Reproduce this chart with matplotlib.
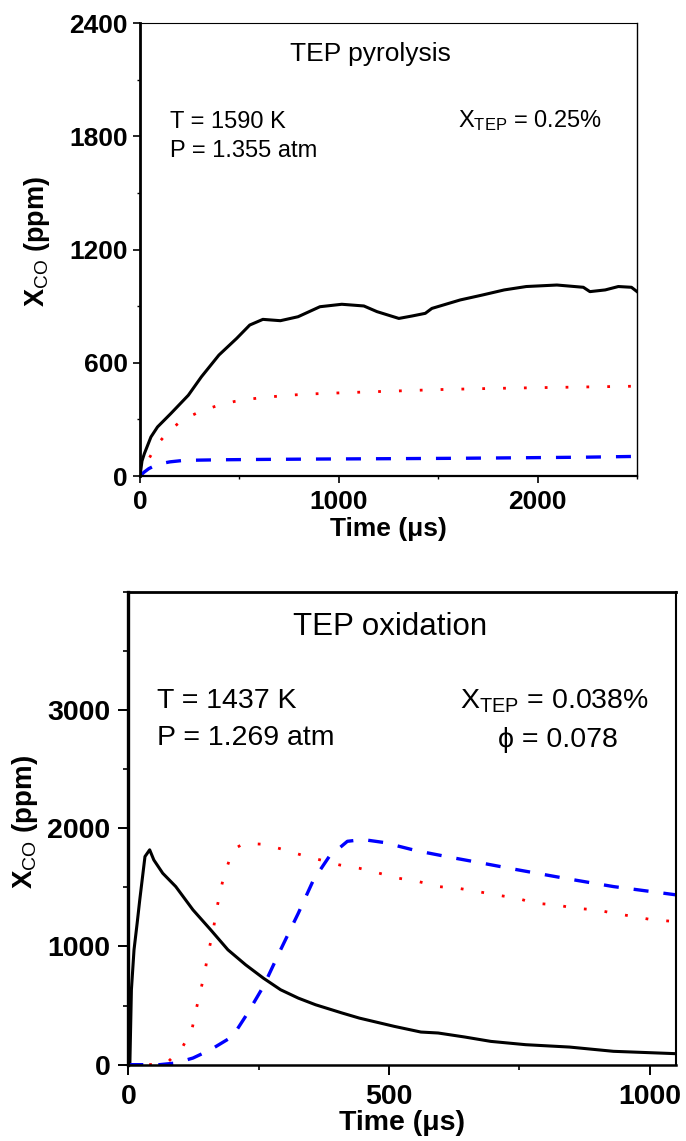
import matplotlib
matplotlib.use('Agg')
import matplotlib.pyplot as plt
from matplotlib.ticker import MultipleLocator

plt.rcParams['font.family'] = ['Liberation Sans', 'DejaVu Sans']
plt.rcParams['mathtext.fontset'] = 'custom'
plt.rcParams['mathtext.rm'] = 'Liberation Sans'
plt.rcParams['mathtext.it'] = 'Liberation Sans:italic'
plt.rcParams['mathtext.bf'] = 'Liberation Sans:bold'

# --- TEP pyrolysis (top) ---
pyr_t_exp = [0, 10, 22, 55, 88, 155, 243, 309, 397, 486, 552, 618, 706, 795, 905, 1015,
             1126, 1192, 1302, 1369, 1435, 1468, 1611, 1722, 1832, 1943, 2097, 2230,
             2263, 2340, 2406, 2472, 2500]
pyr_co_exp = [0, 80, 119, 207, 260, 331, 428, 526, 641, 729, 800, 830, 823, 844, 897, 910,
              901, 871, 835, 848, 862, 888, 933, 959, 986, 1004, 1012, 1000,
              977, 986, 1004, 1000, 977]
pyr_t_red = [0, 20, 44, 84, 143, 210, 298, 386, 475, 570, 662, 750, 839, 938, 1126, 1302,
             1501, 1766, 2053, 2500]
pyr_co_red = [0, 45, 90, 165, 235, 295, 340, 372, 395, 410, 420, 428, 434, 438, 445, 451,
              458, 464, 469, 476]
pyr_t_blue = [0, 20, 44, 88, 150, 221, 400, 618, 900, 1280, 1600, 1943, 2250, 2500]
pyr_co_blue = [0, 20, 39, 62, 75, 83, 86, 88, 90, 92, 94, 97, 100, 104]

# --- TEP oxidation (bottom) ---
ox_t_exp = [0, 3, 6, 11, 17, 22, 32, 41, 49, 66, 91, 124, 158, 191, 225, 259, 292, 326,
            359, 410, 443, 510, 561, 594, 645, 695, 762, 846, 930, 1050]
ox_co_exp = [0, 0, 634, 972, 1197, 1394, 1761, 1818, 1732, 1620, 1507, 1310, 1141, 972,
             845, 732, 634, 563, 507, 437, 394, 324, 276, 268, 234, 197, 169, 149, 113, 93]
ox_t_red = [0, 40, 74, 103, 122, 130, 139, 147, 153, 162, 168, 175, 183, 195, 205, 222,
            259, 296, 332, 405, 443, 481, 519, 557, 594, 632, 670, 704, 746, 779, 821, 855,
            897, 930, 968, 1006, 1050]
ox_co_red = [0, 0, 14, 141, 296, 465, 634, 789, 944, 1113, 1282, 1437, 1592, 1746, 1830,
             1873, 1865, 1822, 1774, 1690, 1662, 1620, 1577, 1549, 1507, 1493, 1465, 1437,
             1408, 1366, 1352, 1324, 1310, 1282, 1254, 1225, 1211]
ox_t_blue = [0, 60, 91, 124, 158, 200, 229, 259, 292, 326, 355, 385, 420, 450, 490, 553,
             617, 680, 745, 808, 846, 930, 1050]
ox_co_blue = [0, 0, 14, 56, 127, 239, 437, 662, 972, 1282, 1563, 1760, 1890, 1905, 1880,
              1810, 1755, 1704, 1650, 1600, 1570, 1507, 1437]

fig = plt.figure(figsize=(6.86, 11.41), dpi=100)

# top panel
ax1 = fig.add_axes([0.2041, 0.5828, 0.7245, 0.3970])
ax1.plot(pyr_t_exp, pyr_co_exp, color='black', lw=2.2)
ax1.plot(pyr_t_red, pyr_co_red, color='red', lw=2.0, linestyle=(0, (1, 6.5)))
ax1.plot(pyr_t_blue, pyr_co_blue, color='blue', lw=2.4, linestyle=(0, (4.5, 4.5)))
ax1.set_xlim(0, 2500)
ax1.set_ylim(0, 2400)
ax1.xaxis.set_major_locator(MultipleLocator(1000))
ax1.xaxis.set_minor_locator(MultipleLocator(500))
ax1.yaxis.set_major_locator(MultipleLocator(600))
ax1.yaxis.set_minor_locator(MultipleLocator(300))
ax1.spines['left'].set_linewidth(2.0)
ax1.spines['bottom'].set_linewidth(1.6)
ax1.spines['top'].set_linewidth(0.8)
ax1.spines['right'].set_linewidth(1.0)
ax1.tick_params(which='major', direction='out', length=5, width=1.2, pad=5)
ax1.tick_params(which='minor', direction='out', length=2.5, width=1.0)
ax1.tick_params(axis='y', pad=4)
for lab in ax1.get_xticklabels() + ax1.get_yticklabels():
    lab.set_fontsize(19)
    lab.set_fontweight('bold')
ax1.set_xlabel('Time (μs)', fontsize=19, fontweight='bold', labelpad=2)
ax1.text(-0.208, 0.518, 'X$_{\\mathrm{CO}}$ (ppm)', transform=ax1.transAxes,
         rotation=90, ha='center', va='center', fontsize=19.5, fontweight='bold')
ax1.text(0.463, 0.9157, 'TEP pyrolysis', transform=ax1.transAxes, ha='center',
         va='baseline', fontsize=19)
ax1.text(0.060, 0.769, 'T = 1590 K', transform=ax1.transAxes, va='baseline', fontsize=17)
ax1.text(0.060, 0.705, 'P = 1.355 atm', transform=ax1.transAxes, va='baseline', fontsize=17)
ax1.text(0.640, 0.771, 'X$_{\\mathrm{TEP}}$ = 0.25%', transform=ax1.transAxes,
         va='baseline', fontsize=17)

# bottom panel
ax2 = fig.add_axes([0.1870, 0.0669, 0.7984, 0.4143])
ax2.plot(ox_t_exp, ox_co_exp, color='black', lw=2.2)
ax2.plot(ox_t_red, ox_co_red, color='red', lw=2.0, linestyle=(0, (1, 6.5)))
ax2.plot(ox_t_blue, ox_co_blue, color='blue', lw=2.4, linestyle=(0, (4.5, 4.5)))
ax2.set_xlim(0, 1050)
ax2.set_ylim(0, 4000)
ax2.xaxis.set_major_locator(MultipleLocator(500))
ax2.xaxis.set_minor_locator(MultipleLocator(250))
ax2.yaxis.set_major_locator(MultipleLocator(1000))
ax2.yaxis.set_minor_locator(MultipleLocator(500))
ax2.set_yticks([0, 1000, 2000, 3000])
ax2.spines['left'].set_linewidth(2.4)
ax2.spines['bottom'].set_linewidth(1.8)
ax2.spines['top'].set_linewidth(2.0)
ax2.spines['right'].set_linewidth(1.5)
ax2.tick_params(which='major', direction='out', length=7, width=1.4, pad=7)
ax2.tick_params(which='minor', direction='out', length=3.5, width=1.2)
ax2.tick_params(axis='y', pad=6)
for lab in ax2.get_xticklabels() + ax2.get_yticklabels():
    lab.set_fontsize(20.5)
    lab.set_fontweight('bold')
ax2.set_xlabel('Time (μs)', fontsize=20.5, fontweight='bold', labelpad=0)
ax2.text(-0.188, 0.514, 'X$_{\\mathrm{CO}}$ (ppm)', transform=ax2.transAxes,
         rotation=90, ha='center', va='center', fontsize=20, fontweight='bold')
ax2.text(0.478, 0.909, 'TEP oxidation', transform=ax2.transAxes, ha='center',
         va='baseline', fontsize=22.5)
ax2.text(0.052, 0.754, 'T = 1437 K', transform=ax2.transAxes, va='baseline', fontsize=20.5)
ax2.text(0.052, 0.676, 'P = 1.269 atm', transform=ax2.transAxes, va='baseline', fontsize=20.5)
ax2.text(0.6056, 0.754, 'X$_{\\mathrm{TEP}}$ = 0.038%', transform=ax2.transAxes,
         va='baseline', fontsize=20.5)
ax2.text(0.675, 0.672, 'ϕ = 0.078', transform=ax2.transAxes, va='baseline', fontsize=20.5)

fig.savefig('out.png', dpi=100)
